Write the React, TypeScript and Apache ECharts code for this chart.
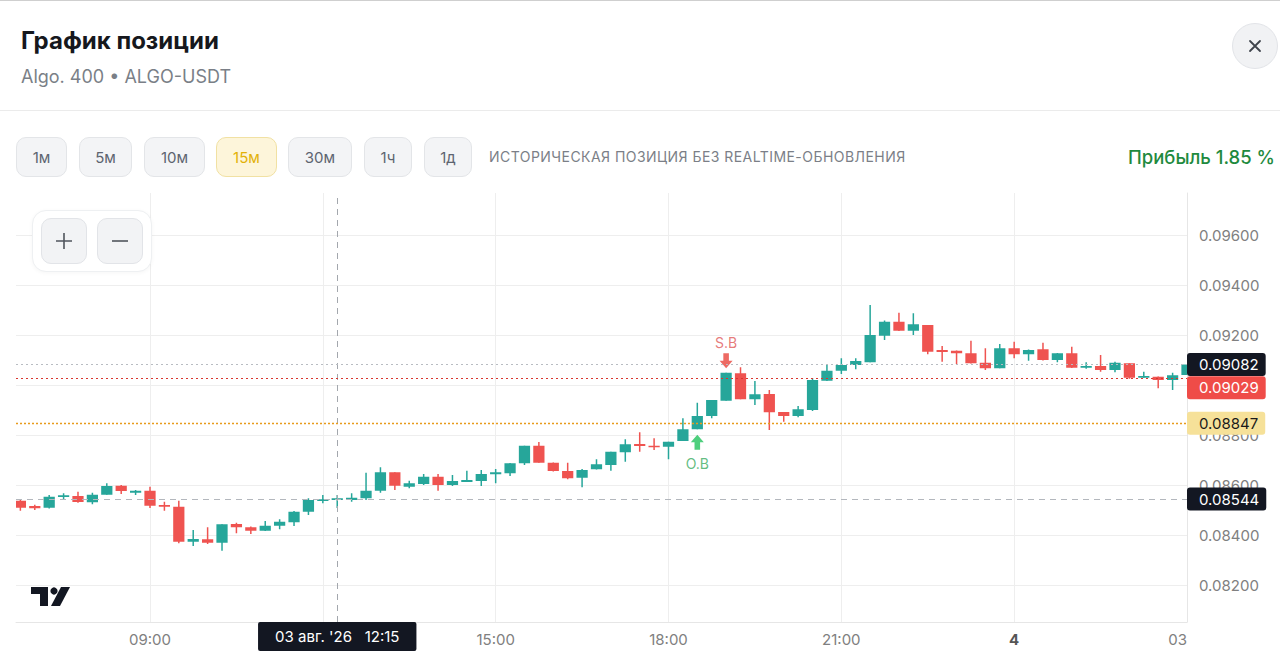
import React, { useEffect, useRef } from "react";
import * as echarts from "echarts";

// ---------- data ----------
const times = [
  "06:45", "07:00", "07:15", "07:30", "07:45", "08:00", "08:15", "08:30", "08:45",
  "09:00", "09:15", "09:30", "09:45", "10:00", "10:15", "10:30", "10:45", "11:00", "11:15", "11:30", "11:45",
  "12:00", "12:15", "12:30", "12:45", "13:00", "13:15", "13:30", "13:45", "14:00", "14:15", "14:30", "14:45",
  "15:00", "15:15", "15:30", "15:45", "16:00", "16:15", "16:30", "16:45", "17:00", "17:15", "17:30", "17:45",
  "18:00", "18:15", "18:30", "18:45", "19:00", "19:15", "19:30", "19:45", "20:00", "20:15", "20:30", "20:45",
  "21:00", "21:15", "21:30", "21:45", "22:00", "22:15", "22:30", "22:45", "23:00", "23:15", "23:30", "23:45",
  "00:00", "00:15", "00:30", "00:45", "01:00", "01:15", "01:30", "01:45", "02:00", "02:15", "02:30", "02:45",
  "03:00",
];

const opens = [
  0.08537, 0.08516, 0.08509, 0.08552, 0.08556, 0.08531, 0.08561, 0.08597, 0.08569, 0.08577,
  0.0852, 0.08513, 0.08373, 0.08383, 0.08369, 0.08444, 0.08431, 0.08417, 0.08437, 0.08451,
  0.08493, 0.08536, 0.0854, 0.0854, 0.08547, 0.08577, 0.08651, 0.08593, 0.08604, 0.08633,
  0.086, 0.08612, 0.08616, 0.08643, 0.08647, 0.08687, 0.08757, 0.08689, 0.08656, 0.08629,
  0.08663, 0.0868, 0.08731, 0.08764, 0.08757, 0.08753, 0.08776, 0.08823, 0.08876, 0.08937,
  0.09047, 0.08943, 0.08964, 0.08892, 0.08876, 0.089, 0.09017, 0.09057, 0.0908, 0.09091,
  0.09197, 0.09253, 0.09217, 0.0924, 0.0914, 0.09137, 0.09127, 0.09089, 0.09067, 0.09147,
  0.09123, 0.09143, 0.091, 0.09127, 0.09069, 0.09076, 0.0906, 0.09087, 0.09029, 0.09033,
  0.0902, 0.0904,
];

const closes = [
  0.08509, 0.08507, 0.08553, 0.08559, 0.08532, 0.08561, 0.08596, 0.08576, 0.08577, 0.08517,
  0.08513, 0.08373, 0.08384, 0.08369, 0.08443, 0.08431, 0.08417, 0.08437, 0.08453, 0.08493,
  0.0854, 0.08543, 0.08547, 0.08549, 0.08577, 0.08651, 0.08597, 0.08607, 0.08633, 0.086,
  0.08616, 0.0862, 0.08644, 0.08651, 0.08687, 0.08757, 0.08689, 0.08656, 0.08627, 0.0866,
  0.08683, 0.08733, 0.08763, 0.08756, 0.08751, 0.08773, 0.08823, 0.08876, 0.0894, 0.09049,
  0.08943, 0.08963, 0.08891, 0.08876, 0.08903, 0.0902, 0.09057, 0.0908, 0.09096, 0.092,
  0.09253, 0.09217, 0.09243, 0.09133, 0.09132, 0.09127, 0.09087, 0.09067, 0.09147, 0.09123,
  0.0914, 0.091, 0.09127, 0.09069, 0.09076, 0.0906, 0.09089, 0.09029, 0.09036, 0.0902,
  0.09039, 0.09082,
];

const lows = [
  0.08497, 0.085, 0.08506, 0.0854, 0.08529, 0.08523, 0.08561, 0.08564, 0.0856, 0.08508,
  0.08497, 0.08367, 0.08356, 0.08364, 0.08337, 0.08407, 0.08404, 0.08416, 0.08423, 0.08436,
  0.0848, 0.08527, 0.08508, 0.08533, 0.0854, 0.08569, 0.0858, 0.08587, 0.086, 0.08577,
  0.08596, 0.08612, 0.08596, 0.08607, 0.08636, 0.0868, 0.08689, 0.08654, 0.08623, 0.08591,
  0.08662, 0.08657, 0.08693, 0.08733, 0.0874, 0.08703, 0.08776, 0.08823, 0.08867, 0.08937,
  0.08943, 0.0892, 0.0882, 0.08853, 0.08871, 0.08896, 0.09016, 0.09044, 0.09063, 0.09091,
  0.0918, 0.09216, 0.092, 0.09123, 0.09093, 0.09084, 0.09086, 0.0906, 0.09067, 0.09107,
  0.09097, 0.09098, 0.09091, 0.09068, 0.09065, 0.09053, 0.09051, 0.09025, 0.09029, 0.08987,
  0.0898, 0.0904,
];

const highs = [
  0.08543, 0.08521, 0.0856, 0.08567, 0.08573, 0.08569, 0.08607, 0.086, 0.0858, 0.08593,
  0.08533, 0.08537, 0.0842, 0.08431, 0.08443, 0.08449, 0.08434, 0.08456, 0.08463, 0.08496,
  0.08547, 0.0856, 0.0856, 0.08567, 0.08649, 0.08671, 0.08651, 0.08617, 0.08644, 0.08644,
  0.0864, 0.08657, 0.0866, 0.08664, 0.08688, 0.08757, 0.08772, 0.0869, 0.08689, 0.08664,
  0.08703, 0.08733, 0.08783, 0.08811, 0.08787, 0.08773, 0.08867, 0.08929, 0.0894, 0.09049,
  0.09071, 0.09016, 0.0898, 0.08892, 0.08916, 0.09027, 0.09084, 0.09107, 0.09107, 0.0932,
  0.09258, 0.09289, 0.09287, 0.0924, 0.09156, 0.09138, 0.09177, 0.09147, 0.09164, 0.09173,
  0.09142, 0.09169, 0.09128, 0.09153, 0.09091, 0.0912, 0.09093, 0.09087, 0.09053, 0.09034,
  0.09049, 0.09082,
];

// 12:00 is hidden under the crosshair time label in the reference
const xTickHours = [9, 12, 15, 18, 21, 24, 27];
const xTickText = ["09:00", "", "15:00", "18:00", "21:00", "4", "03"];
// 0.09000 is hidden under the red price label in the reference
const hiddenYTicks = [0.09];

const lastPrice = 0.09082;
const exitPrice = 0.09029;
const entryPrice = 0.08847;
const crossPrice = 0.08544;
const crossTime = "12:15";
const crossDate = "03 авг. '26";
const entryTime = "18:30";
const exitTime = "19:00";

const intervals = ["1м", "5м", "10м", "15м", "30м", "1ч", "1д"];
const activeInterval = "15м";

// ---------- helpers ----------
const GREEN = "#26a69a";
const RED = "#ef5350";
const FONT = "Inter, 'Noto Sans', sans-serif";

function toHours(t: string) {
  const [h, m] = t.split(":").map(Number);
  const v = h + m / 60;
  return v < 6 ? v + 24 : v;
}

const downArrow = "path://M4,0 L10,0 L10,8 L14,8 L7,16 L0,8 L4,8 Z";
const upArrow = "path://M7,0 L14,8 L10,8 L10,16 L4,16 L4,8 L0,8 Z";

function priceLabel(bg: string, fg: string, dy: number) {
  return {
    show: true,
    position: "end",
    distance: 0,
    formatter: (p: any) => Number(p.value).toFixed(5),
    backgroundColor: bg,
    color: fg,
    padding: [4, 7, 4, 12],
    fontSize: 15,
    lineHeight: 15,
    borderRadius: 3,
    fontFamily: FONT,
    offset: [0, dy],
  };
}

function Chart() {
  const ref = useRef<HTMLDivElement>(null);
  useEffect(() => {
    if (!ref.current) return;
    const chart = echarts.init(ref.current, undefined, { renderer: "svg" });
    const candleData = times.map((t, i) => [toHours(t), opens[i], closes[i], lows[i], highs[i]]);
    const exitIdx = times.indexOf(exitTime);
    const entryIdx = times.indexOf(entryTime);

    const option: any = {
      animation: false,
      textStyle: { fontFamily: FONT },
      grid: { left: 16, top: 193, width: 1171, height: 429 },
      xAxis: {
        type: "value",
        min: 6.674,
        max: 27,
        splitNumber: 7,
        minInterval: 3,
        maxInterval: 3,
        axisLine: { show: true, lineStyle: { color: "#e6e6e6" } },
        axisTick: { show: false },
        splitLine: { show: true, showMinLine: false, lineStyle: { color: "#eeeeee" } },
        axisLabel: {
          showMinLabel: false,
          showMaxLabel: true,
          alignMaxLabel: "right",
          margin: 10,
          fontSize: 15,
          color: "#808080",
          fontFamily: FONT,
          formatter: (v: number) => {
            const idx = xTickHours.findIndex((h) => Math.abs(h - v) < 1e-6);
            if (idx < 0) return "";
            const txt = xTickText[idx];
            if (!txt) return "";
            return xTickHours[idx] % 24 === 0 ? `{b|${txt}}` : txt;
          },
          rich: { b: { fontWeight: 700, color: "#555555", fontSize: 15, fontFamily: FONT } },
        },
      },
      yAxis: {
        type: "value",
        position: "right",
        min: 0.08052,
        max: 0.09768,
        minInterval: 0.002,
        maxInterval: 0.002,
        axisLine: { show: true, lineStyle: { color: "#e6e6e6" } },
        axisTick: { show: false },
        splitLine: { show: true, showMinLine: false, showMaxLine: false, lineStyle: { color: "#eeeeee" } },
        axisLabel: {
          showMinLabel: false,
          showMaxLabel: false,
          margin: 12,
          fontSize: 15,
          color: "#808080",
          fontFamily: FONT,
          formatter: (v: number) => (hiddenYTicks.some((h) => Math.abs(h - v) < 1e-7) ? "" : v.toFixed(5)),
        },
      },
      graphic: [
        { type: "rect", shape: { x: 31, y: 587, width: 17, height: 7 }, style: { fill: "#131722" } },
        { type: "rect", shape: { x: 40, y: 587, width: 8, height: 19 }, style: { fill: "#131722" } },
        { type: "circle", shape: { cx: 54, cy: 591, r: 3.6 }, style: { fill: "#131722" } },
        {
          type: "polygon",
          shape: { points: [[51, 606], [60, 606], [70, 587], [61, 587]] },
          style: { fill: "#131722" },
        },
      ],
      series: [
        {
          type: "custom",
          data: candleData,
          encode: { x: 0, y: [1, 2, 3, 4] },
          clip: true,
          silent: true,
          renderItem: (_params: any, api: any) => {
            const x = api.value(0);
            const o = api.value(1);
            const c = api.value(2);
            const l = api.value(3);
            const h = api.value(4);
            const color = c >= o ? GREEN : RED;
            const po = api.coord([x, o]);
            const yc = api.coord([x, c])[1];
            const yl = api.coord([x, l])[1];
            const yh = api.coord([x, h])[1];
            const xc = po[0];
            const w = api.size([0.195, 0])[0];
            const top = Math.min(po[1], yc);
            const bh = Math.max(Math.abs(po[1] - yc), 1.5);
            return {
              type: "group",
              children: [
                { type: "line", shape: { x1: xc, y1: yh, x2: xc, y2: yl }, style: { stroke: color, lineWidth: 1.5 } },
                { type: "rect", shape: { x: xc - w / 2, y: top, width: w, height: bh }, style: { fill: color } },
              ],
            };
          },
        },
        {
          type: "scatter",
          clip: false,
          silent: true,
          data: [
            {
              value: [toHours(exitTime), highs[exitIdx]],
              symbol: downArrow,
              symbolSize: [13, 15],
              symbolOffset: [0, -12],
              itemStyle: { color: "#e8453c" },
              label: { show: true, position: "top", distance: 4, formatter: "S.B", color: "#e05858", fontSize: 14, fontFamily: FONT },
            },
            {
              value: [toHours(entryTime), lows[entryIdx]],
              symbol: upArrow,
              symbolSize: [13, 15],
              symbolOffset: [0, 13],
              itemStyle: { color: "#22c35d" },
              label: { show: true, position: "bottom", distance: 7, formatter: "O.B", color: "#3aac5f", fontSize: 14, fontFamily: FONT },
            },
          ],
          markLine: {
            silent: true,
            animation: false,
            precision: 5,
            symbol: ["none", "none"],
            data: [
              { yAxis: crossPrice, lineStyle: { color: "#b3b7bd", type: [6, 5], width: 1 }, label: priceLabel("#131722", "#ffffff", 0) },
              {
                xAxis: toHours(crossTime),
                lineStyle: { color: "#a3a7ad", type: [6, 5], width: 1 },
                label: {
                  show: true,
                  position: "start",
                  distance: 0,
                  formatter: `${crossDate}   ${crossTime}`,
                  backgroundColor: "#131722",
                  color: "#ffffff",
                  padding: [7, 17],
                  fontSize: 15,
                  lineHeight: 15,
                  borderRadius: 2,
                  fontFamily: FONT,
                },
              },
              { yAxis: entryPrice, lineStyle: { color: "#e89b1c", type: [2, 2], width: 1.3 }, label: priceLabel("#f6e199", "#1a1a1a", 0) },
              { yAxis: exitPrice, lineStyle: { color: "#d9352e", type: [2, 3], width: 1 }, label: priceLabel("#ef4c48", "#ffffff", 10) },
              { yAxis: lastPrice, lineStyle: { color: "#b8bcc2", type: [2, 3], width: 1 }, label: priceLabel("#131722", "#ffffff", 0) },
            ],
          },
        },
      ],
    };
    chart.setOption(option);
    return () => chart.dispose();
  }, []);
  return <div ref={ref} style={{ position: "absolute", left: 0, top: 0, width: 1280, height: 664 }} />;
}

const btnBase: React.CSSProperties = {
  position: "absolute",
  top: 137,
  height: 40,
  boxSizing: "border-box",
  borderRadius: 10,
  border: "1px solid #e3e5e8",
  background: "#f3f4f6",
  color: "#5d6470",
  fontSize: 15,
  display: "flex",
  alignItems: "center",
  justifyContent: "center",
  fontFamily: FONT,
};

const btnPos = [
  [16, 51],
  [79, 53],
  [144, 61],
  [216, 61],
  [288, 64],
  [364, 48],
  [424, 48],
];

export default function App() {
  return (
    <div
      style={{
        position: "fixed",
        left: 0,
        top: 0,
        width: 1280,
        height: 664,
        background: "#ffffff",
        overflow: "hidden",
        fontFamily: FONT,
      }}
    >
      <div style={{ position: "absolute", left: 0, top: 0, width: 1280, height: 1, background: "#cfcfcf" }} />
      <Chart />
      <div style={{ position: "absolute", left: 21, top: 26, fontSize: 24, lineHeight: "30px", fontWeight: 700, color: "#16181d" }}>
        График позиции
      </div>
      <div style={{ position: "absolute", left: 21, top: 66, fontSize: 18, lineHeight: "22px", color: "#7a7f87" }}>
        Algo. 400 • ALGO-USDT
      </div>
      <div
        style={{
          position: "absolute",
          left: 1232,
          top: 23,
          width: 46,
          height: 46,
          boxSizing: "border-box",
          borderRadius: "50%",
          background: "#f1f2f4",
          border: "1px solid #e2e4e8",
        }}
      >
        <svg width="44" height="44" viewBox="0 0 44 44" style={{ position: "absolute", left: 0, top: 0 }}>
          <path d="M17 17 L27 27 M27 17 L17 27" stroke="#3f444c" strokeWidth="1.8" strokeLinecap="round" />
        </svg>
      </div>
      <div style={{ position: "absolute", left: 0, top: 110, width: 1280, height: 1, background: "#ebebeb" }} />
      {intervals.map((t, i) => {
        const active = t === activeInterval;
        return (
          <div
            key={t}
            style={{
              ...btnBase,
              left: btnPos[i][0],
              width: btnPos[i][1],
              background: active ? "#fdf5da" : "#f3f4f6",
              border: active ? "1px solid #f1e1a3" : "1px solid #e3e5e8",
              color: active ? "#e2b107" : "#5d6470",
            }}
          >
            {t}
          </div>
        );
      })}
      <div
        style={{
          position: "absolute",
          left: 489,
          top: 148,
          fontSize: 14,
          lineHeight: "18px",
          letterSpacing: "0.45px",
          color: "#7b7f87",
          whiteSpace: "nowrap",
        }}
      >
        ИСТОРИЧЕСКАЯ ПОЗИЦИЯ БЕЗ REALTIME-ОБНОВЛЕНИЯ
      </div>
      <div
        style={{
          position: "absolute",
          right: 5,
          top: 145,
          fontSize: 18.5,
          lineHeight: "24px",
          fontWeight: 500,
          color: "#1f8a3e",
          whiteSpace: "nowrap",
        }}
      >
        Прибыль 1.85 %
      </div>
      <div
        style={{
          position: "absolute",
          left: 32,
          top: 210,
          width: 120,
          height: 62,
          boxSizing: "border-box",
          borderRadius: 14,
          background: "#ffffff",
          border: "1px solid #eef0f2",
          boxShadow: "0 1px 4px rgba(0,0,0,0.04)",
        }}
      >
        {[0, 1].map((k) => (
          <div
            key={k}
            style={{
              position: "absolute",
              left: k === 0 ? 8 : 64,
              top: 7,
              width: 46,
              height: 46,
              boxSizing: "border-box",
              borderRadius: 10,
              background: "#f2f3f5",
              border: "1px solid #e2e4e8",
            }}
          >
            <svg width="44" height="44" viewBox="0 0 44 44" style={{ position: "absolute", left: 0, top: 0 }}>
              {k === 0 ? (
                <path d="M22 14 L22 30 M14 22 L30 22" stroke="#50555d" strokeWidth="1.6" />
              ) : (
                <path d="M14 22 L30 22" stroke="#50555d" strokeWidth="1.6" />
              )}
            </svg>
          </div>
        ))}
      </div>
    </div>
  );
}
